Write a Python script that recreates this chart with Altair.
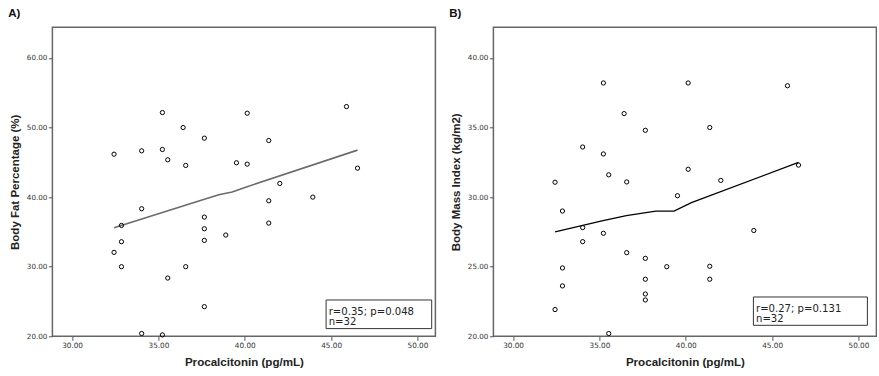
import altair as alt
import pandas as pd

# ---- data ----
pct = [32.43, 32.43, 32.86, 32.86, 32.86, 34.03, 34.03, 34.03, 35.23, 35.23, 35.23,
       35.54, 35.54, 36.43, 36.58, 36.58, 37.66, 37.66, 37.66, 37.66, 37.66, 38.90,
       39.52, 40.14, 40.14, 41.39, 41.39, 41.39, 42.03, 43.94, 45.89, 46.53]
body_fat = [46.17, 32.06, 35.93, 33.59, 30.00, 46.65, 38.33, 20.40, 52.15, 46.84, 20.20,
            45.36, 28.37, 50.00, 44.55, 30.00, 48.47, 37.13, 35.45, 33.78, 24.26, 34.55,
            44.93, 52.06, 44.74, 48.13, 39.47, 36.27, 41.96, 40.00, 53.01, 44.16]

pct_b = [32.43, 32.43, 32.86, 32.86, 32.86, 34.03, 34.03, 34.03, 35.23, 35.23, 35.23,
         35.54, 35.54, 36.43, 36.58, 36.58, 37.66, 37.66, 37.66, 37.66, 37.66, 38.90,
         39.52, 40.14, 40.14, 41.39, 41.39, 41.39, 42.03, 43.94, 45.89, 46.53]
bmi = [31.07, 21.92, 29.00, 24.91, 23.62, 33.60, 27.81, 26.80, 38.20, 33.10, 27.40,
       31.60, 20.20, 36.00, 31.09, 26.01, 34.80, 25.60, 24.10, 23.04, 22.61, 25.00,
       30.10, 38.20, 32.00, 35.00, 25.03, 24.10, 31.20, 27.60, 38.00, 32.30]

fit_a_x = [32.43, 35.23, 37.66, 38.50, 39.27, 40.14, 46.53]
fit_a_y = [35.60, 37.78, 39.68, 40.35, 40.72, 41.50, 46.75]

fit_b_x = [32.43, 35.21, 36.56, 38.26, 39.32, 40.33, 46.53]
fit_b_y = [27.50, 28.31, 28.67, 29.00, 29.00, 29.60, 32.50]

x_ticks = [30, 35, 40, 45, 50]
y_ticks_a = [20, 30, 40, 50, 60]
y_ticks_b = [20, 25, 30, 35, 40]

ann_a = ["r=0.35; p=0.048", "n=32"]
ann_b = ["r=0.27; p=0.131", "n=32"]

X_DOMAIN = [28.86, 51.04]
W, H = 383, 309

TITLE_FONT = "Liberation Sans"
SMALL_FONT = "DejaVu Sans"


def x_axis():
    return alt.Axis(values=x_ticks, format=".2f", tickSize=4, labelPadding=0.8,
                    labelFont=SMALL_FONT, labelFontSize=7.3, labelColor="#333",
                    titleFont=TITLE_FONT, titleFontSize=11.6, titleFontWeight="bold",
                    titleColor="#222", minExtent=14, maxExtent=14, titlePadding=6.0,
                    domain=False, grid=False, tickColor="#555")


def y_axis(vals):
    return alt.Axis(values=vals, format=".2f", tickSize=4, labelPadding=1.5,
                    labelFont=SMALL_FONT, labelFontSize=7.2, labelColor="#333",
                    titleFont=TITLE_FONT, titleFontSize=11.5, titleFontWeight="bold",
                    titleColor="#222", minExtent=24, maxExtent=24, titlePadding=7.8,
                    domain=False, grid=False, tickColor="#555")


def panel(label, xs, ys, fx, fy, ytitle, ydomain, yvals, box_px, ann, line_color, line_w):
    pts = pd.DataFrame({"x": xs, "y": ys})
    fit = pd.DataFrame({"x": fx, "y": fy})
    note = pd.DataFrame({"line1": [ann[0]], "line2": [ann[1]]})
    xenc = alt.X("x:Q", scale=alt.Scale(domain=X_DOMAIN, nice=False, zero=False),
                 axis=x_axis(), title="Procalcitonin (pg/mL)")
    yenc = alt.Y("y:Q", scale=alt.Scale(domain=ydomain, nice=False, zero=False),
                 axis=y_axis(yvals), title=ytitle)
    points = alt.Chart(pts).mark_point(shape="circle", filled=False, color="black",
                                       size=18, strokeWidth=1, opacity=1).encode(x=xenc, y=yenc)
    line = alt.Chart(fit).mark_line(color=line_color, strokeWidth=line_w).encode(x="x:Q", y="y:Q")
    x0, x1, y0, y1 = box_px
    box = alt.Chart(note).mark_rect(fill="white", stroke="#333", strokeWidth=1).encode(
        x=alt.value(x0), x2=alt.value(x1), y=alt.value(y0), y2=alt.value(y1))
    t1 = alt.Chart(note).mark_text(align="left", baseline="alphabetic", font=SMALL_FONT,
                                   fontSize=10.1, color="#222").encode(
        x=alt.value(x0 + 2.6), y=alt.value(y0 + 14.6), text="line1:N")
    t2 = alt.Chart(note).mark_text(align="left", baseline="alphabetic", font=SMALL_FONT,
                                   fontSize=10.1, color="#222").encode(
        x=alt.value(x0 + 2.6), y=alt.value(y0 + 25.2), text="line2:N")
    return alt.layer(line, points, box, t1, t2).properties(
        width=W, height=H,
        title=alt.TitleParams(label, anchor="start", frame="bounds", font=TITLE_FONT,
                              fontSize=11.5, fontWeight="bold", color="#111", offset=8, dx=-1.4))


left = panel("A)", pct, body_fat, fit_a_x, fit_a_y, "Body Fat Percentage (%)",
             [20, 64.4], y_ticks_a, [273.7, 379.3, 272.7, 301.3], ann_a, "#6b6b6b", 1.6)
right = panel("B)", pct_b, bmi, fit_b_x, fit_b_y, "Body Mass Index (kg/m2)",
              [20, 42.2], y_ticks_b, [260.0, 374.0, 269.7, 298.0], ann_b, "black", 1.3)

chart = alt.hconcat(left, right, spacing=12).properties(
    padding={"left": 7.4, "top": 6.3, "right": 0, "bottom": 0},
    background="white"
).configure_view(stroke="#666", strokeWidth=1.5)

chart.save("out.html", embed_options={"renderer": "svg", "actions": False})
